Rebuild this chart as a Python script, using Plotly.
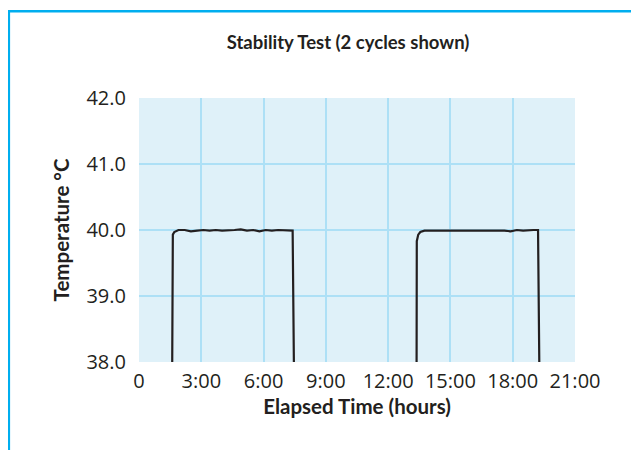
import plotly.graph_objects as go

# ---- data (elapsed hours, temperature °C) ----
hours_cycle1 = [1.60, 1.63, 1.70, 1.80, 1.90, 2.2, 2.5, 2.8, 3.1, 3.4, 3.7, 4.0, 4.3,
                4.6, 4.9, 5.2, 5.5, 5.8, 6.1, 6.4, 6.7, 7.0, 7.2, 7.40, 7.46]
temp_cycle1 = [38.0, 39.93, 39.97, 39.99, 40.0, 40.0, 39.98, 39.99, 40.0, 39.99, 40.0,
               39.99, 39.99, 40.0, 40.01, 39.99, 40.0, 39.98, 40.0, 39.99, 40.0, 40.0,
               39.99, 39.99, 38.0]

hours_cycle2 = [13.37, 13.38, 13.45, 13.55, 13.75, 14.0, 14.3, 14.6, 14.9, 15.2, 15.5,
                15.8, 16.1, 16.4, 16.7, 17.0, 17.3, 17.6, 17.9, 18.2, 18.5, 18.8, 19.0,
                19.22, 19.28]
temp_cycle2 = [38.0, 39.83, 39.93, 39.97, 39.99, 39.99, 40.0, 40.0, 39.99, 40.0, 39.99,
               40.0, 40.0, 40.0, 40.0, 40.0, 39.99, 39.99, 39.98, 40.0, 39.99, 40.0, 40.0,
               40.0, 38.0]

x_tick_vals = [0, 3, 6, 9, 12, 15, 18, 21]
x_tick_text = ["0", "3:00", "6:00", "9:00", "12:00", "15:00", "18:00", "21:00"]
y_tick_vals = [38, 39, 40, 41, 42]
y_tick_text = ["38.0", "39.0", "40.0", "41.0", "42.0"]

TEXT = "#231f20"
TICK_FONT = "Open Sans"
TITLE_FONT = "Lato"
OFF = 8  # page body margin
W, H = 639 - OFF, 450 - OFF
L, R, T, B = 139 - OFF, 64, 98 - OFF, 88
PW, PH = W - L - R, H - T - B


def px_x(p):
    return (p - L) / PW


def px_y(p):
    return (H - B - p) / PH


fig = go.Figure()
for hx, ty in ((hours_cycle1, temp_cycle1), (hours_cycle2, temp_cycle2)):
    fig.add_trace(go.Scatter(x=hx, y=ty, mode="lines",
                             line=dict(color=TEXT, width=2.2),
                             showlegend=False, hoverinfo="skip"))

fig.update_layout(
    width=W, height=H,
    margin=dict(l=L, r=R, t=T, b=B, autoexpand=False),
    paper_bgcolor="white",
    plot_bgcolor="#dff1f9",
    font=dict(family=TICK_FONT, color=TEXT),
    title=dict(text="<b>Stability Test (2 cycles shown)</b>",
               x=(348 - OFF) / W, xanchor="center", xref="container",
               y=1 - (43 - OFF) / H, yanchor="middle", yref="container",
               font=dict(family=TITLE_FONT, size=18.5, color=TEXT)),
    shapes=[
        dict(type="line", xref="paper", yref="paper",
             x0=px_x(-2), x1=px_x(W + 2), y0=px_y(3.2), y1=px_y(3.2),
             line=dict(color="#00aeef", width=2.6)),
        dict(type="line", xref="paper", yref="paper",
             x0=px_x(0.8), x1=px_x(0.8), y0=px_y(2), y1=px_y(H + 4),
             line=dict(color="#00aeef", width=2.6)),
    ],
)

fig.update_xaxes(
    range=[0, 21], tickvals=x_tick_vals, ticktext=x_tick_text,
    showgrid=True, gridcolor="#ade0f6", gridwidth=1.5, zeroline=False,
    showline=False, ticks="outside", ticklen=1, tickcolor="rgba(0,0,0,0)",
    tickfont=dict(family=TICK_FONT, size=20, color=TEXT),
    title=dict(text="<b>Elapsed Time (hours)</b>", standoff=5,
               font=dict(family=TITLE_FONT, size=20.5, color=TEXT)),
)
fig.update_yaxes(
    range=[38, 42], tickvals=y_tick_vals, ticktext=y_tick_text,
    showgrid=True, gridcolor="#ade0f6", gridwidth=1.5, zeroline=False,
    showline=False, ticks="outside", ticklen=8, tickcolor="rgba(0,0,0,0)",
    tickfont=dict(family=TICK_FONT, size=20, color=TEXT),
    title=dict(text="<b>Temperature °C</b>", standoff=11,
               font=dict(family=TITLE_FONT, size=20.5, color=TEXT)),
)

fig.write_html("out.html")
